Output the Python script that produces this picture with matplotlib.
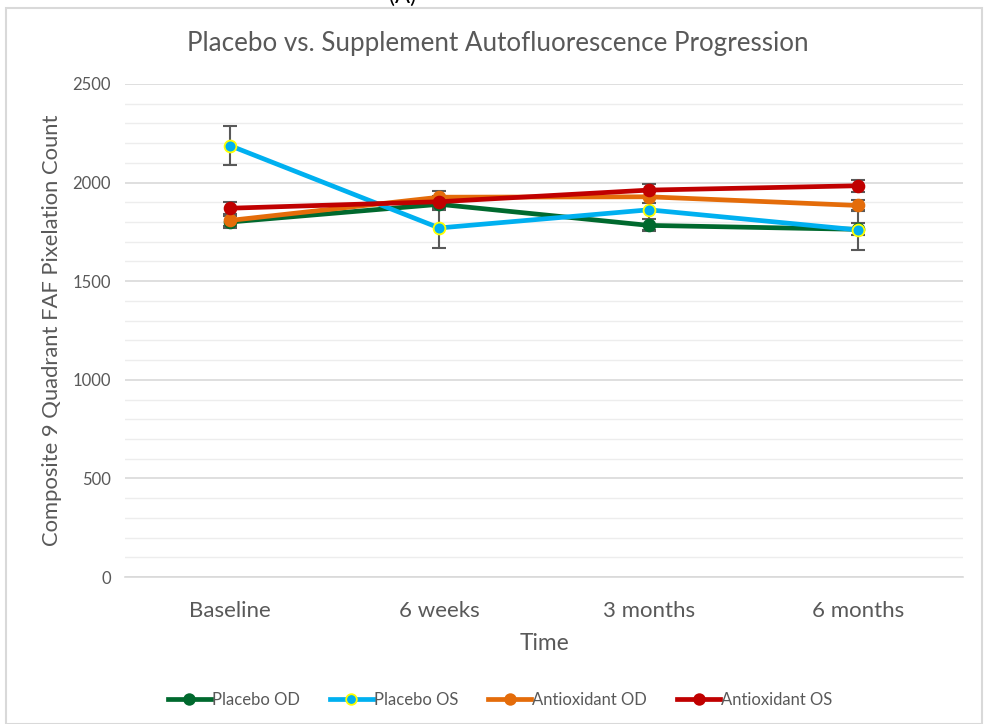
import matplotlib
matplotlib.use("Agg")
import matplotlib.pyplot as plt
from matplotlib.patches import Rectangle
from matplotlib.ticker import MultipleLocator

categories = ["Baseline", "6 weeks", "3 months", "6 months"]
placebo_od = [1800, 1890, 1783, 1763]
placebo_os = [2188, 1770, 1862, 1760]
antiox_od = [1808, 1926, 1928, 1884]
antiox_os = [1870, 1903, 1962, 1984]
err_placebo_od = [30, 30, 30, 30]
err_placebo_os = [100, 100, 100, 100]
err_antiox_od = [30, 30, 30, 30]
err_antiox_os = [30, 30, 30, 30]
series_names = ["Placebo OD", "Placebo OS", "Antioxidant OD", "Antioxidant OS"]

W, H = 986, 724
fig = plt.figure(figsize=(W / 100, H / 100), dpi=100)
font = ["Lato", "DejaVu Sans"]
txt = "#595959"

# outer chart frame
fig.patches.append(Rectangle((6 / W, 0), (982 - 6) / W, (H - 8) / H, transform=fig.transFigure,
                             fill=False, edgecolor="#D9D9D9", linewidth=1.5))
fig.text(403 / W, 1 - 3 / H, "(A)", ha="center", va="baseline", fontsize=16, color="black", family=font)

ax = fig.add_axes([125 / W, (H - 577) / H, (963 - 125) / W, (577 - 84) / H])
x = list(range(len(categories)))

colors = ["#00692E", "#00B0F0", "#E46C0A", "#C00000"]
data = [placebo_od, placebo_os, antiox_od, antiox_os]
errs = [err_placebo_od, err_placebo_os, err_antiox_od, err_antiox_os]
handles = []
for name, vals, e, c in zip(series_names, data, errs, colors):
    ax.errorbar(x, vals, yerr=e, fmt="none", ecolor="#595959", elinewidth=1.5, capsize=5, capthick=1.5, zorder=3)
for name, vals, c in zip(series_names, data, colors):
    mec = "#FFFF00" if name == "Placebo OS" else c
    h, = ax.plot(x, vals, color=c, linewidth=3.4, marker="o", markersize=8.5,
                 markerfacecolor=c, markeredgecolor=mec, markeredgewidth=1.3, label=name, zorder=4)
    handles.append(h)

ax.set_xlim(-0.5, len(categories) - 0.5)
ax.set_ylim(0, 2500)
ax.yaxis.set_major_locator(MultipleLocator(500))
ax.yaxis.set_minor_locator(MultipleLocator(100))
ax.grid(which="major", axis="y", color="#D9D9D9", linewidth=1.2, zorder=0)
ax.grid(which="minor", axis="y", color="#EDEDED", linewidth=1.0, zorder=0)
ax.set_axisbelow(True)
for s in ["top", "right", "left"]:
    ax.spines[s].set_visible(False)
ax.spines["bottom"].set_color("#D9D9D9")
ax.spines["bottom"].set_linewidth(1.2)
ax.tick_params(axis="both", which="both", length=0)
ax.tick_params(axis="y", labelsize=12, labelcolor=txt, pad=10)
ax.tick_params(axis="x", labelsize=16, labelcolor=txt, pad=17)
ax.set_xticks(x)
ax.set_xticklabels(categories, family=font)
for lab in ax.get_yticklabels():
    lab.set_family(font)

fig.text(498 / W, 1 - 44 / H, "Placebo vs. Supplement Autofluorescence Progression", fontsize=18.7,
         color=txt, family=font, ha="center", va="center")
ax.set_ylabel("Composite 9 Quadrant FAF Pixelation Count", fontsize=15.8, color=txt, family=font)
ax.yaxis.set_label_coords((52 - 125) / (963 - 125), 0.5)
ax.yaxis.label.set_va("center")
ax.set_xlabel("Time", fontsize=16.4, color=txt, family=font, labelpad=9)

fig.legend(handles=handles, loc="center", bbox_to_anchor=(500 / W, 1 - 700 / H), ncol=4, frameon=False,
           handlelength=2.6, handletextpad=0.05, columnspacing=1.8, prop={"family": font, "size": 12},
           labelcolor=txt, markerscale=0.9)

fig.savefig("out.png", dpi=100, facecolor="white")
